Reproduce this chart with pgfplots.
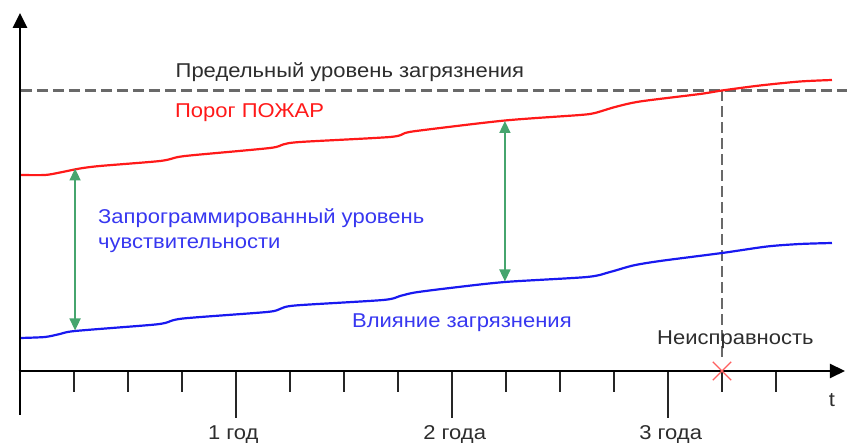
\documentclass[border=0pt]{standalone}
\usepackage{pgfplots}
\pgfplotsset{compat=1.18}
\usepackage{graphicx}
\usepackage{fontspec}
\setmainfont{Liberation Sans}
\usetikzlibrary{arrows.meta}
\definecolor{redline}{RGB}{255,25,25}
\definecolor{blueline}{RGB}{25,25,240}
\definecolor{bluetext}{RGB}{55,55,240}
\definecolor{greenarr}{RGB}{70,165,110}
\definecolor{grayline}{RGB}{105,105,105}
\definecolor{darktext}{RGB}{45,45,45}
\definecolor{xmark}{RGB}{255,95,95}
\newcommand\lbl{\fontsize{20bp}{24bp}\selectfont}
\newcommand\sx[1]{\scalebox{1.1}[1]{#1}}
\begin{document}
\begin{tikzpicture}
\begin{axis}[
  scale only axis, width=847bp, height=443bp,
  xmin=-1.1111, xmax=45.9444, ymin=-72, ymax=371,
  axis lines=none, clip=false,
]
\coordinate (bl) at (axis cs:-1.1111,-72);
\coordinate (tr) at (axis cs:45.9444,371);
% limit line
\addplot[grayline, line width=2.5bp, dash pattern=on 11bp off 5bp] coordinates {(0.05,280.5)(45.94,280.5)};
\addplot[grayline, line width=2.5bp, dash pattern=on 11bp off 5bp] coordinates {(39,280.5)(39,9)};
% fire threshold
\addplot[redline, line width=2.2bp, smooth, tension=0.45] coordinates {
(0,196)(1.39,196)(2.22,198.5)(3.33,202.5)(4.44,205)(7.78,210)(8.78,214)(9.72,216)
(13.89,223)(14.61,226.5)(15.56,229)(20.56,234)(21.39,238)(22.22,240.5)(26.94,250.5)
(31.11,256)(31.94,258)(33.06,264)(34.44,269.5)(37.78,277)(39,280.5)(41.11,285.5)(43.33,289.5)(45.11,291)};
% contamination
\addplot[blueline, line width=2.2bp, smooth, tension=0.45] coordinates {
(0,33)(1.39,34)(2.22,37)(3.06,40)(7.22,46)(8.06,48)(9.06,52.5)(13.72,59)(14.44,62)(15.28,65.5)
(20.17,71)(21.11,75)(21.94,78.5)(23.89,83)(26.94,89)(31.5,94)(32.78,99)(34.06,105.5)(35.56,110)
(39,118)(41.5,124.5)(43.33,127)(45.11,128)};
% green arrows
\addplot[greenarr, line width=1.6bp, {Triangle[length=12bp,width=11bp]}-{Triangle[length=12bp,width=11bp]}] coordinates {(3.06,40.5)(3.06,202.5)};
\addplot[greenarr, line width=1.6bp, {Triangle[length=12bp,width=11bp]}-{Triangle[length=12bp,width=11bp]}] coordinates {(26.94,89.5)(26.94,250)};
% ticks
\addplot[ycomb, no marks, color=black!85, line width=2bp] coordinates {(3,-21)(6,-21)(9,-21)(15,-21)(18,-21)(21,-21)(27,-21)(30,-21)(33,-21)(39,-21)(42,-21)};
\addplot[ycomb, no marks, color=black!85, line width=2bp] coordinates {(12,-47)(24,-47)(36,-47)};
% axes
\addplot[black, line width=2.6bp, -{Triangle[length=15bp,width=14bp]}] coordinates {(0,-44)(0,358)};
\addplot[black, line width=2.6bp, -{Triangle[length=15bp,width=14bp]}] coordinates {(-0.07,0)(45.83,0)};
% fault mark
\addplot[only marks, mark=x, mark size=13bp, color=xmark, mark options={line width=1.4bp}] coordinates {(39,0)};
% labels
\node[darktext, font=\lbl] at (axis cs:18.33,299) {\sx{Предельный уровень загрязнения}};
\node[redline, font=\lbl, anchor=west, inner sep=0pt] at (axis cs:8.61,258) {\sx{Порог ПОЖАР}};
\node[bluetext, font=\lbl, anchor=west, inner sep=0pt] at (axis cs:4.33,153) {\sx{Запрограммированный уровень}};
\node[bluetext, font=\lbl, anchor=west, inner sep=0pt] at (axis cs:4.33,126) {\sx{чувствительности}};
\node[bluetext, font=\lbl, anchor=west, inner sep=0pt] at (axis cs:18.44,48) {\sx{Влияние загрязнения}};
\node[darktext, font=\lbl, anchor=west, inner sep=0pt] at (axis cs:35.39,31) {\sx{Неисправность}};
\node[darktext, font=\lbl] at (axis cs:11.85,-64) {\sx{1 год}};
\node[darktext, font=\lbl] at (axis cs:24.15,-64) {\sx{2 года}};
\node[darktext, font=\lbl] at (axis cs:36.15,-64) {\sx{3 года}};
\node[darktext, font=\lbl] at (axis cs:45.11,-29) {\sx{t}};
\end{axis}
\pgfresetboundingbox
\path (bl) rectangle (tr);
\end{tikzpicture}
\end{document}
